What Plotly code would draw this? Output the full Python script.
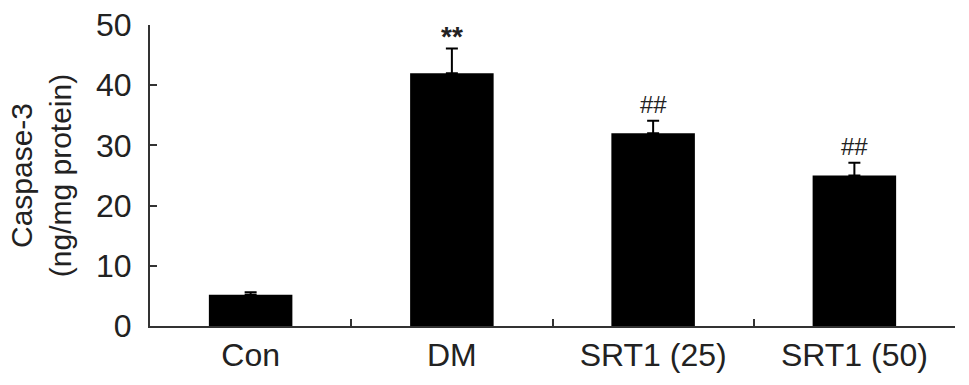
import plotly.graph_objects as go

categories = ["Con", "DM", "SRT1 (25)", "SRT1 (50)"]
means = [5.2, 42.0, 32.0, 25.0]
errors = [0.4, 4.1, 2.1, 2.1]
marks = ["", "**", "##", "##"]
y_ticks = [0, 10, 20, 30, 40, 50]

FONT = "Liberation Sans, Arial, Helvetica, sans-serif"
TXT = "#222222"

fig = go.Figure()
fig.add_trace(go.Bar(
    x=categories, y=means, width=0.415,
    marker=dict(color="black", line=dict(width=0)),
    error_y=dict(type="data", array=errors, arrayminus=[0]*len(errors),
                 symmetric=False, color="black", thickness=2, width=6),
    showlegend=False, hoverinfo="skip",
))

for c, m, e, s in zip(categories, means, errors, marks):
    if s:
        star = s == "**"
        fig.add_annotation(x=c, y=m + e, text=f"<b>{s}</b>" if star else s, showarrow=False,
                           yanchor="bottom", yshift=-6 if star else 1,
                           font=dict(family=FONT, size=28 if star else 24, color=TXT))

fig.update_layout(
    width=969, height=385,
    margin=dict(l=150, r=14, t=25, b=59),
    paper_bgcolor="white", plot_bgcolor="white",
    font=dict(family=FONT, color=TXT),
    bargap=0.585,
)
fig.update_xaxes(
    type="category", range=[-0.5, 3.5], automargin=False,
    showline=True, linecolor="#333333", linewidth=2,
    ticks="inside", tickson="boundaries", ticklen=7, tickwidth=2, tickcolor="#333333",
    tickfont=dict(family=FONT, size=32, color=TXT),
    showgrid=False, zeroline=False,
)
fig.update_yaxes(
    range=[0, 50], tickvals=y_ticks, automargin=False,
    showline=True, linecolor="#333333", linewidth=2,
    ticks="inside", ticklen=7, tickwidth=2, tickcolor="#333333",
    tickfont=dict(family=FONT, size=32, color=TXT), ticklabelstandoff=10,
    showgrid=False, zeroline=False,
    title=dict(text="Caspase-3<br>(ng/mg protein)", font=dict(family=FONT, size=30, color=TXT), standoff=16),
)

fig.write_html("out.html", config={"displayModeBar": False},
               post_script="document.body.style.margin='0';document.body.style.overflow='hidden';")
